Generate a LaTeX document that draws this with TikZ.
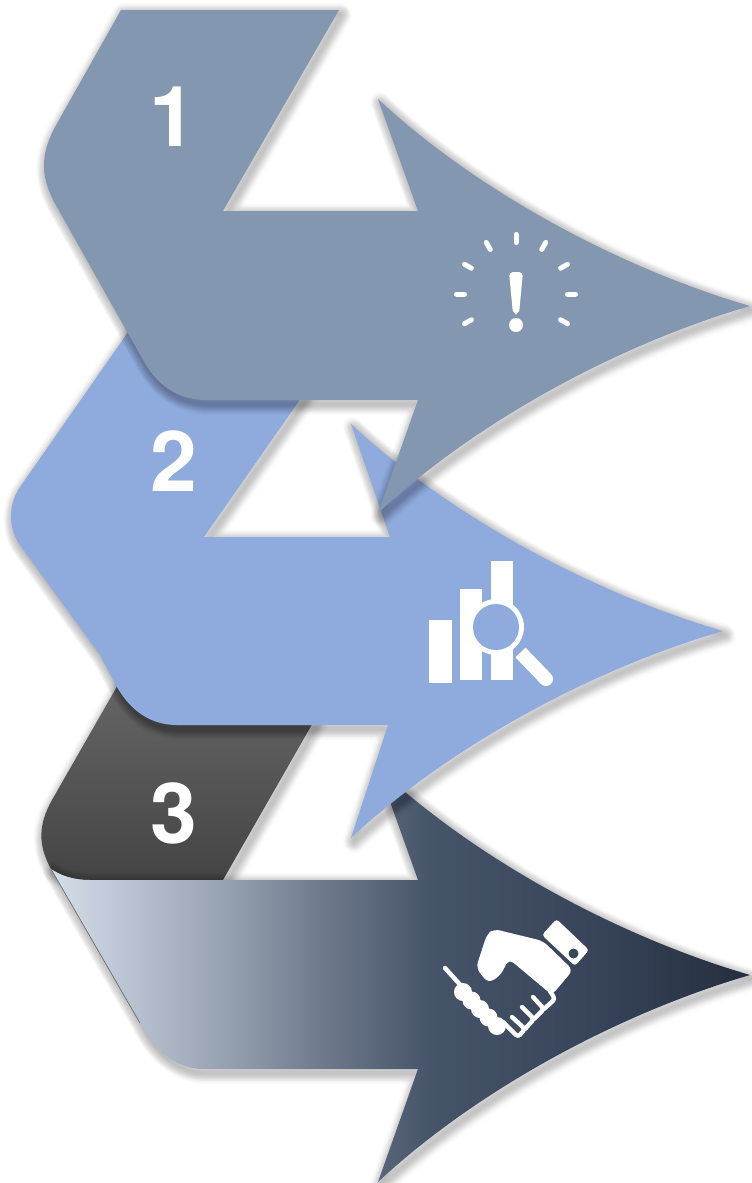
\documentclass[tikz,border=0pt]{standalone}
\usepackage{fontspec}
\setmainfont{TeX Gyre Heros}
\definecolor{slateblue}{HTML}{8497B0}
\definecolor{softblue}{HTML}{8FAADC}
\definecolor{darktop}{HTML}{6A6A6A}
\definecolor{darkbot}{HTML}{444444}
\definecolor{holefill}{HTML}{3A4759}
\pgfdeclarehorizontalshading{bandshade}{100bp}{
  rgb(0bp)=(.835,.867,.918);
  rgb(25bp)=(.835,.867,.918);
  rgb(35.7bp)=(.627,.667,.729);
  rgb(45bp)=(.42,.467,.537);
  rgb(52.1bp)=(.275,.329,.412);
  rgb(64.3bp)=(.212,.263,.349);
  rgb(75bp)=(.145,.18,.235);
  rgb(100bp)=(.145,.18,.235)}
\tikzset{
  shadowlayer/.style={draw=black, line join=round, draw opacity=0.017},
  digit/.style={anchor=base, text=white, font=\fontsize{84}{84}\selectfont\bfseries, inner sep=0pt},
  icnline/.style={draw=white, line cap=round, line join=round, line width=4.4pt},
  rayline/.style={draw=white, line cap=round, line width=5pt},
}
\newcommand{\softshadow}[1]{\foreach \k in {1,2,3,4}{\foreach \w in {2,6,10,14,18}{\path[shadowlayer, shift={(\k,1.6*\k)}, line width=\w pt] #1;}}}
\def\arrowone{(121,10) -- (339,10) -- (223,211) -- (418,211) -- (378,99)
  .. controls (470,185) and (610,265) .. (750,306)
  .. controls (610,347) and (470,427) .. (378,513) -- (418,400) -- (207,400)
  .. controls (175,400) and (155,382) .. (143,360) -- (57,207)
  .. controls (40,178) and (40,155) .. (55,127) -- cycle}
\def\arrowtwo{(140,315) -- (313,381) -- (204,537) -- (390,537) -- (351,424)
  .. controls (443,510) and (583,590) .. (723,631)
  .. controls (583,672) and (443,752) .. (351,838) -- (388,725) -- (177,725)
  .. controls (150,725) and (130,710) .. (117,687) -- (100,655) -- (20,545)
  .. controls (8,528) and (8,505) .. (20,487) -- cycle}
\def\darkpart{(135,655) -- (342,672) -- (223,880) -- (90,880)
  .. controls (72,880) and (60,875) .. (51,869)
  .. controls (38,845) and (38,825) .. (52,800) -- cycle}
\def\bandpart{(51,869) .. controls (60,875) and (72,880) .. (90,880) -- (418,880) -- (378,768)
  .. controls (470,854) and (610,934) .. (750,975)
  .. controls (610,1016) and (470,1096) .. (378,1182) -- (418,1069) -- (203,1069)
  .. controls (175,1069) and (152,1048) .. (140,1023) -- cycle}
\begin{document}
\begin{tikzpicture}[x=1pt, y=-1pt]
  \useasboundingbox (0,0) rectangle (752,1183);

  \softshadow{\darkpart}
  \path[top color=darktop, bottom color=darkbot] \darkpart;
  \softshadow{\bandpart}
  \path[shading=bandshade] \bandpart;
  \draw[black!60, line width=0.6pt] (51,869) -- (140,1023);

  \softshadow{\arrowtwo}
  \fill[softblue] \arrowtwo;

  \softshadow{\arrowone}
  \fill[slateblue] \arrowone;

  \node[digit] (num1) at (172.5,146) {1};
  \node[digit] (num2) at (174,491) {2};
  \node[digit] (num3) at (174,843) {3};

  % alert
  \foreach \a in {-90,-60,-30,0,30,150,180,210,240}
    \draw[rayline] (516,294) ++(\a:51.5) -- ++(\a:8);
  \fill[white, rounded corners=4pt] (509,272) -- (523,272) -- (519,314) -- (513,314) -- cycle;
  \fill[white] (516,325) circle (7);

  % chart and lens
  \fill[white] (429,620) rectangle (452,683);
  \fill[white] (460,589) rectangle (482,680);
  \fill[white] (491,561) rectangle (513,680);
  \draw[white, line width=14pt] (520.5,652.5) -- (546,679);
  \fill[white] (546,679) circle (7);
  \fill[white] (496,627) circle (28);
  \fill[softblue] (496,627) circle (23);

  % handshake
  \fill[white, rounded corners=3pt] (556.5,919) -- (589,950) -- (575,966) -- (542,935) -- cycle;
  \fill[holefill] (573.5,953.5) circle (5);
  \fill[white, rounded corners=6pt] (476,968) -- (487,934) -- (494,929) -- (543,941) -- (573,970) -- (552,995) -- (509,959) -- (500,976) -- (488,983) -- cycle;
  \draw[icnline] (445,968) -- (464,989);
  \foreach \cx/\cy in {463/992,471.5/1000.5,480/1009,488.5/1017.5,497/1026}
    \fill[white] (\cx,\cy) circle (9);
  \draw[icnline, rounded corners=3pt] (503,1022) -- (518,1037) -- (525,1029) -- (512,1017);
  \draw[icnline, rounded corners=3pt] (525,1029) -- (534,1019) -- (522,1007);
  \draw[icnline, rounded corners=3pt] (534,1019) -- (544,1009) -- (533,997);
  \draw[icnline, rounded corners=3pt] (544,1009) -- (555,999) -- (550,991);
\end{tikzpicture}
\end{document}
